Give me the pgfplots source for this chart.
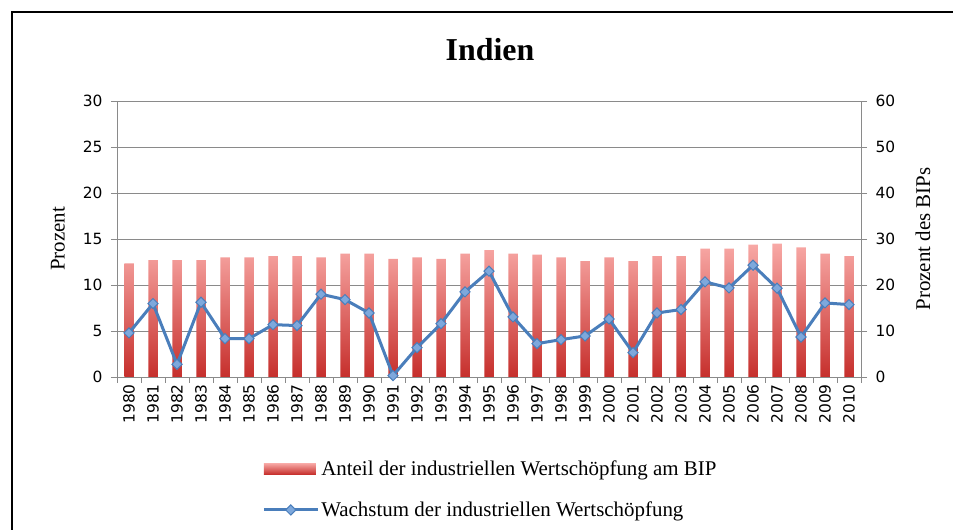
\documentclass[border=0pt]{standalone}
\usepackage{fontspec}
\usepackage{pgfplots}
\usepackage{pgfplotstable}
\pgfplotsset{compat=1.18}
\setmainfont{Liberation Serif}
\newfontfamily\tickfont{DejaVu Sans}
\definecolor{barlight}{HTML}{F8A9A6}
\definecolor{bardark}{HTML}{C62F2C}
\definecolor{lineblue}{HTML}{4A7EBB}
\definecolor{markblue}{HTML}{7EA8DC}
\definecolor{axisgray}{HTML}{8A8A8A}
\pgfplotsset{
  mylinelegend/.style={legend image code/.code={\draw[mark repeat=2,mark phase=2,##1] plot coordinates {(0bp,0bp) (27bp,0bp) (54bp,0bp)};}},
  mybarlegend/.style={legend image code/.code={\fill[draw=none,top color=barlight,bottom color=bardark] (0bp,-5.5bp) rectangle (52bp,5.5bp);}},
}

\pgfplotstableread{
x share growth
0 24.7 4.79
1 25.4 7.98
2 25.4 1.38
3 25.4 8.12
4 26.0 4.17
5 26.0 4.17
6 26.3 5.69
7 26.3 5.59
8 26.0 9.00
9 26.8 8.41
10 26.8 6.96
11 25.7 0.15
12 26.0 3.19
13 25.7 5.80
14 26.8 9.25
15 27.6 11.50
16 26.8 6.53
17 26.6 3.63
18 26.0 4.06
19 25.2 4.46
20 26.0 6.31
21 25.2 2.65
22 26.3 6.96
23 26.3 7.33
24 27.9 10.34
25 27.9 9.68
26 28.8 12.15
27 29.0 9.65
28 28.2 4.35
29 26.8 8.05
30 26.3 7.87
}\data

\begin{document}
\begin{tikzpicture}[x=1bp,y=1bp]
\useasboundingbox (0,0) rectangle (953,530);
\draw[line width=2bp] (12,-5) -- (12,518) -- (960,518);
\node[font=\fontsize{32}{32}\selectfont\bfseries] at (490,480) {Indien};

% right axis: bars
\begin{axis}[
  at={(117bp,153bp)}, anchor=south west, scale only axis,
  width=744bp, height=276bp,
  xmin=-0.5, xmax=30.5, ymin=0, ymax=60,
  axis y line*=right, axis x line=none,
  ytick={0,10,...,60},
  ymajorgrids, grid style={axisgray, line width=0.8bp},
  axis line style={axisgray, line width=0.9bp},
  tick style={axisgray, line width=0.9bp},
  tick align=outside, major tick length=6bp,
  /pgf/number format/assume math mode=true,
  yticklabel style={font=\tickfont\fontsize{15.5}{15.5}\selectfont, xshift=5bp},
  ylabel={Prozent des BIPs},
  ylabel style={font=\fontsize{21}{21}\selectfont, at={(axis description cs:1.0833,0.5)}, rotate=0, anchor=center},
]
\addplot[ybar, bar width=9.5bp, draw=none, top color=barlight, bottom color=bardark] table[x=x,y=share]{\data};
\end{axis}

% left axis: line
\begin{axis}[
  at={(117bp,153bp)}, anchor=south west, scale only axis,
  width=744bp, height=276bp,
  xmin=-0.5, xmax=30.5, ymin=0, ymax=30,
  axis y line*=left, axis x line*=bottom,
  ytick={0,5,...,30},
  xtick={0,...,30},
  xticklabels={1980,1981,1982,1983,1984,1985,1986,1987,1988,1989,1990,1991,1992,1993,1994,1995,1996,1997,1998,1999,2000,2001,2002,2003,2004,2005,2006,2007,2008,2009,2010},
  minor xtick={-0.5,0.5,...,30.5},
  major x tick style={draw=none},
  axis line style={axisgray, line width=0.9bp},
  tick style={axisgray, line width=0.9bp},
  tick align=outside, major tick length=6bp, minor tick length=6bp,
  /pgf/number format/assume math mode=true,
  yticklabel style={font=\tickfont\fontsize{15.5}{15.5}\selectfont, xshift=-5bp},
  xticklabel style={font=\tickfont\fontsize{15.5}{15.5}\selectfont, rotate=90, anchor=east, inner sep=1bp},
  ylabel={Prozent},
  ylabel style={font=\fontsize{21}{21}\selectfont, at={(axis description cs:-0.0793,0.5)}, rotate=0, anchor=center},
  clip=false,
  legend cell align=left,
  legend style={at={(axis description cs:0.195,-0.295)}, anchor=north west, draw=none, fill=none,
    font=\fontsize{21}{21}\selectfont, row sep=21bp, inner sep=0bp,
    nodes={inner sep=2bp}},
]
\addlegendimage{mybarlegend}
\addlegendentry{Anteil der industriellen Wertschöpfung am BIP}
\addplot[lineblue, line width=3bp, mark=square*, mark size=3.6bp,
  mark options={rotate=45, fill=markblue, draw=lineblue, line width=1bp},
  mylinelegend]
  table[x=x,y=growth]{\data};
\addlegendentry{Wachstum der industriellen Wertschöpfung}
\end{axis}
\end{tikzpicture}
\end{document}
